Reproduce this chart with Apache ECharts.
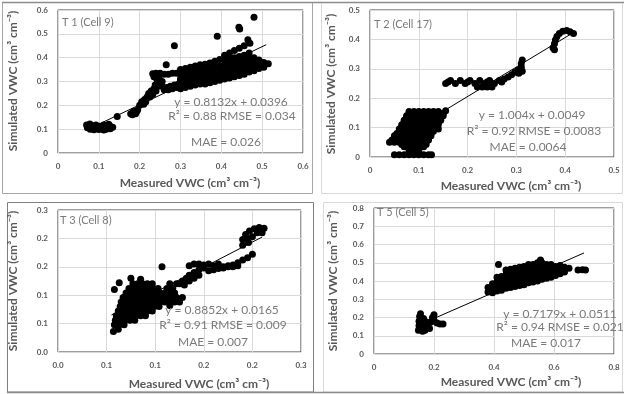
<!DOCTYPE html>
<html>
<head>
<meta charset="utf-8">
<script src="https://cdn.jsdelivr.net/npm/echarts@6/dist/echarts.min.js"></script>
<style>
  html, body { margin: 0; padding: 0; background: #fff; }
  #chart { width: 624px; height: 394px; }
</style>
</head>
<body>
<div id="chart"></div>
<script>
// Measured vs simulated volumetric water content, four monitoring cells

const panelNames = ['T 1 (Cell 9)', 'T 2 (Cell 17)', 'T 3 (Cell 8)', 'T 5 (Cell 5)'];

// fitted regression lines and error statistics
const fitSlope = [0.8132, 1.004, 0.8852, 0.7179];
const fitIntercept = [0.0396, 0.0049, 0.0165, 0.0511];
const fitXRange = [[0.07, 0.51], [0.045, 0.41], [0.055, 0.21], [0.19, 0.70]];
const fitSlopeText = ['0.8132', '1.004', '0.8852', '0.7179'];
const fitInterceptText = ['0.0396', '0.0049', '0.0165', '0.0511'];
const r2Text = ['0.88', '0.92', '0.91', '0.94'];
const rmseText = ['0.034', '0.0083', '0.009', '0.021'];
const maeText = ['0.026', '0.0064', '0.007', '0.017'];

// axis extents and tick labels
const xMax = [0.6, 0.5, 0.25, 0.8];
const xStep = [0.1, 0.1, 0.05, 0.2];
const yMax = [0.6, 0.5, 0.25, 0.8];
const yStep = [0.1, 0.1, 0.05, 0.1];
const xTickLabels = [
  ['0', '0.1', '0.2', '0.3', '0.4', '0.5', '0.6'],
  ['0', '0.1', '0.2', '0.3', '0.4', '0.5'],
  ['0.0', '0.1', '0.1', '0.2', '0.2', '0.3'],
  ['0', '0.2', '0.4', '0.6', '0.8']
];
const yTickLabels = [
  ['0', '0.1', '0.2', '0.3', '0.4', '0.5', '0.6'],
  ['0', '0.1', '0.2', '0.3', '0.4', '0.5'],
  ['0.0', '0.1', '0.1', '0.2', '0.2', '0.3'],
  ['0', '0.1', '0.2', '0.3', '0.4', '0.5', '0.6', '0.7', '0.8']
];

// T 1 (Cell 9): measured, simulated
const t1Points = [
  [0.07,0.117],[0.072,0.106],[0.079,0.100],[0.083,0.115],[0.09,0.105],[0.093,0.118],[0.1,0.099],[0.102,0.112],
  [0.108,0.104],[0.112,0.117],[0.118,0.100],[0.12,0.111],[0.126,0.116],[0.128,0.102],[0.134,0.108],[0.088,0.098],
  [0.112,0.097],[0.124,0.121],[0.078,0.122],
  [0.145,0.153],
  [0.178,0.165],[0.185,0.175],[0.19,0.165],[0.195,0.18],[0.192,0.172],[0.182,0.16],
  [0.2,0.2],[0.205,0.215],[0.21,0.205],[0.212,0.225],[0.218,0.235],[0.215,0.215],[0.222,0.25],[0.225,0.235],
  [0.228,0.26],[0.232,0.245],[0.235,0.27],[0.24,0.26],[0.238,0.285],[0.245,0.28],[0.245,0.3],[0.25,0.29],
  [0.242,0.31],[0.235,0.32],[0.232,0.332],[0.24,0.335],[0.25,0.335],[0.26,0.33],[0.27,0.33],[0.28,0.335],
  [0.29,0.335],[0.3,0.33],[0.248,0.32],
  [0.255,0.28],[0.265,0.275],[0.275,0.28],[0.285,0.285],[0.295,0.29],[0.26,0.265],[0.27,0.265],[0.28,0.27],
  [0.29,0.275],[0.3,0.28],[0.255,0.3],[0.3,0.305],[0.305,0.32],
  [0.30,0.27],[0.30,0.29],[0.30,0.31],[0.30,0.35],
  [0.312,0.275],[0.312,0.295],[0.312,0.315],[0.312,0.335],[0.312,0.355],
  [0.324,0.28],[0.324,0.30],[0.324,0.32],[0.324,0.34],[0.324,0.36],
  [0.336,0.285],[0.336,0.305],[0.336,0.325],[0.336,0.345],[0.336,0.365],
  [0.348,0.29],[0.348,0.31],[0.348,0.33],[0.348,0.35],[0.348,0.37],
  [0.36,0.29],[0.36,0.31],[0.36,0.33],[0.36,0.35],[0.36,0.372],
  [0.372,0.295],[0.372,0.315],[0.372,0.335],[0.372,0.355],[0.372,0.378],
  [0.384,0.30],[0.384,0.32],[0.384,0.34],[0.384,0.36],[0.384,0.385],
  [0.396,0.305],[0.396,0.325],[0.396,0.345],[0.396,0.365],[0.396,0.392],
  [0.408,0.31],[0.408,0.33],[0.408,0.35],[0.408,0.37],[0.408,0.39],[0.408,0.41],
  [0.42,0.315],[0.42,0.335],[0.42,0.355],[0.42,0.375],[0.42,0.395],[0.42,0.42],
  [0.432,0.32],[0.432,0.34],[0.432,0.36],[0.432,0.38],[0.432,0.40],[0.432,0.43],
  [0.444,0.325],[0.444,0.345],[0.444,0.365],[0.444,0.385],[0.444,0.405],[0.444,0.44],
  [0.456,0.33],[0.456,0.35],[0.456,0.37],[0.456,0.39],[0.456,0.41],[0.456,0.45],
  [0.468,0.34],[0.468,0.36],[0.468,0.38],[0.468,0.40],[0.468,0.42],
  [0.48,0.345],[0.48,0.365],[0.48,0.385],[0.48,0.40],
  [0.492,0.355],[0.492,0.375],[0.492,0.39],
  [0.504,0.36],[0.504,0.38],[0.515,0.375],
  [0.285,0.45],[0.39,0.49],[0.445,0.52],[0.443,0.528],[0.48,0.57],[0.465,0.475],[0.47,0.46],[0.265,0.37],[0.455,0.34]
];

// T 2 (Cell 17)
const t2Points = [
  [0.05,0.008],[0.06,0.008],[0.07,0.008],[0.08,0.008],[0.09,0.008],[0.1,0.008],[0.11,0.008],[0.12,0.008],[0.126,0.008],
  [0.08,0.02],[0.09,0.022],[0.1,0.02],
  [0.07,0.035],[0.08,0.035],[0.09,0.037],[0.1,0.035],[0.11,0.035],
  [0.065,0.0425],[0.075,0.0425],[0.085,0.0425],[0.095,0.0425],[0.105,0.0425],[0.115,0.0425],
  [0.04,0.05],[0.05,0.05],[0.06,0.05],[0.07,0.05],[0.085,0.05],[0.095,0.05],[0.105,0.05],[0.115,0.05],
  [0.045,0.0575],[0.055,0.0575],[0.065,0.0575],[0.075,0.0575],[0.09,0.0575],[0.11,0.0575],[0.12,0.0575],
  [0.05,0.065],[0.06,0.065],[0.07,0.065],[0.08,0.065],[0.1,0.065],[0.11,0.065],[0.12,0.065],
  [0.05,0.0725],[0.06,0.0725],[0.07,0.0725],[0.08,0.0725],[0.09,0.0725],[0.105,0.0725],[0.115,0.0725],[0.125,0.0725],
  [0.055,0.08],[0.065,0.08],[0.075,0.08],[0.085,0.08],[0.095,0.08],[0.105,0.08],[0.115,0.08],[0.125,0.08],
  [0.06,0.0875],[0.07,0.0875],[0.08,0.0875],[0.09,0.0875],[0.1,0.0875],[0.11,0.0875],[0.12,0.0875],[0.13,0.0875],
  [0.06,0.095],[0.07,0.095],[0.08,0.095],[0.09,0.095],[0.1,0.095],[0.11,0.095],[0.12,0.095],[0.13,0.095],[0.14,0.095],
  [0.065,0.1025],[0.075,0.1025],[0.085,0.1025],[0.095,0.1025],[0.105,0.1025],[0.115,0.1025],[0.125,0.1025],[0.135,0.1025],
  [0.065,0.11],[0.075,0.11],[0.085,0.11],[0.095,0.11],[0.105,0.11],[0.12,0.11],[0.13,0.11],[0.14,0.11],
  [0.07,0.1175],[0.08,0.1175],[0.1,0.1175],[0.11,0.1175],[0.12,0.1175],[0.13,0.1175],[0.14,0.1175],
  [0.07,0.125],[0.08,0.125],[0.09,0.125],[0.1,0.125],[0.11,0.125],[0.125,0.125],[0.135,0.125],[0.145,0.125],
  [0.075,0.1325],[0.085,0.1325],[0.095,0.1325],[0.105,0.1325],[0.115,0.1325],[0.125,0.1325],[0.135,0.1325],[0.145,0.1325],
  [0.075,0.14],[0.085,0.14],[0.095,0.14],[0.105,0.14],[0.115,0.14],[0.13,0.14],[0.14,0.14],[0.15,0.14],
  [0.08,0.1475],[0.09,0.1475],[0.1,0.1475],[0.11,0.1475],[0.12,0.1475],[0.135,0.1475],[0.145,0.1475],[0.15,0.1475],
  [0.08,0.155],[0.09,0.155],[0.1,0.155],[0.11,0.155],[0.12,0.155],[0.13,0.155],[0.14,0.155],[0.155,0.157],
  [0.155,0.25],[0.165,0.26],[0.175,0.25],[0.185,0.26],[0.195,0.25],[0.205,0.26],[0.215,0.25],[0.225,0.26],
  [0.235,0.25],[0.245,0.26],[0.255,0.25],[0.265,0.26],[0.27,0.255],[0.16,0.255],[0.2,0.255],[0.24,0.255],
  [0.22,0.238],[0.23,0.238],[0.24,0.238],[0.25,0.238],
  [0.275,0.265],[0.283,0.272],[0.29,0.28],[0.297,0.288],[0.303,0.295],[0.31,0.305],[0.31,0.318],[0.312,0.33],[0.305,0.285],[0.312,0.292],
  [0.375,0.372],[0.378,0.385],[0.38,0.398],[0.383,0.41],[0.388,0.42],[0.395,0.428],[0.403,0.43],[0.41,0.426],[0.417,0.42],[0.378,0.365]
];

// T 3 (Cell 8)
const t3Points = [
  [0.057,0.036],[0.062,0.04],
  [0.058,0.048],[0.063,0.048],[0.068,0.048],
  [0.059,0.056],[0.064,0.056],[0.069,0.056],[0.074,0.056],[0.079,0.056],
  [0.06,0.064],[0.065,0.064],[0.07,0.064],[0.075,0.064],[0.08,0.064],[0.085,0.064],[0.09,0.064],
  [0.062,0.072],[0.067,0.072],[0.072,0.072],[0.077,0.072],[0.082,0.072],[0.087,0.072],[0.092,0.072],[0.097,0.072],
  [0.064,0.08],[0.069,0.08],[0.074,0.08],[0.079,0.08],[0.084,0.08],[0.089,0.08],[0.094,0.08],[0.099,0.08],[0.104,0.08],[0.115,0.082],
  [0.065,0.088],[0.07,0.088],[0.075,0.088],[0.08,0.088],[0.085,0.088],[0.09,0.088],[0.095,0.088],[0.1,0.088],[0.105,0.088],[0.11,0.088],[0.115,0.088],[0.12,0.088],[0.125,0.088],
  [0.067,0.096],[0.072,0.096],[0.077,0.096],[0.082,0.096],[0.087,0.096],[0.092,0.096],[0.097,0.096],[0.102,0.096],[0.107,0.096],[0.112,0.096],[0.117,0.096],[0.122,0.096],[0.128,0.096],
  [0.07,0.104],[0.075,0.104],[0.08,0.104],[0.085,0.104],[0.09,0.104],[0.095,0.104],[0.1,0.104],[0.105,0.104],[0.11,0.104],[0.115,0.104],[0.12,0.104],
  [0.073,0.112],[0.078,0.112],[0.083,0.112],[0.088,0.112],[0.093,0.112],[0.098,0.112],[0.103,0.112],[0.112,0.112],[0.118,0.112],
  [0.077,0.12],[0.082,0.12],[0.087,0.12],[0.092,0.12],[0.097,0.12],[0.115,0.12],[0.122,0.12],
  [0.125,0.12],[0.128,0.125],[0.132,0.13],[0.135,0.135],[0.14,0.14],[0.145,0.145],[0.15,0.148],[0.13,0.118],[0.135,0.125],[0.14,0.13],[0.145,0.135],
  [0.135,0.152],[0.14,0.155],[0.145,0.155],[0.15,0.153],[0.155,0.155],[0.16,0.152],[0.165,0.155],[0.17,0.15],[0.175,0.152],[0.18,0.15],[0.185,0.152],
  [0.155,0.143],[0.16,0.145],[0.165,0.147],[0.17,0.148],[0.175,0.15],[0.18,0.153],[0.185,0.157],[0.19,0.162],[0.195,0.166],[0.2,0.172],
  [0.19,0.188],[0.19,0.198],[0.193,0.207],[0.197,0.213],[0.202,0.217],[0.207,0.219],[0.212,0.218],[0.196,0.193],[0.2,0.203],[0.205,0.21],[0.21,0.21],[0.194,0.2],
  [0.107,0.15],[0.063,0.122],[0.075,0.13],[0.058,0.11],[0.085,0.128]
];

// T 5 (Cell 5)
const t4Points = [
  [0.148,0.13],[0.15,0.155],[0.15,0.18],[0.152,0.205],[0.155,0.22],[0.158,0.14],[0.16,0.17],[0.165,0.195],[0.17,0.15],
  [0.175,0.175],[0.18,0.16],[0.185,0.14],[0.19,0.175],[0.195,0.2],[0.2,0.215],[0.2,0.185],[0.21,0.17],[0.22,0.165],
  [0.23,0.165],[0.17,0.13],[0.162,0.125],
  [0.38,0.34],[0.38,0.365],
  [0.395,0.335],[0.395,0.36],[0.395,0.385],
  [0.41,0.345],[0.41,0.37],[0.41,0.395],[0.41,0.42],
  [0.425,0.35],[0.425,0.375],[0.425,0.40],[0.425,0.425],
  [0.44,0.36],[0.44,0.385],[0.44,0.41],[0.44,0.435],[0.44,0.46],
  [0.455,0.365],[0.455,0.39],[0.455,0.415],[0.455,0.44],[0.455,0.465],
  [0.47,0.37],[0.47,0.395],[0.47,0.42],[0.47,0.445],[0.47,0.47],
  [0.485,0.375],[0.485,0.40],[0.485,0.425],[0.485,0.45],[0.485,0.475],
  [0.50,0.38],[0.50,0.405],[0.50,0.43],[0.50,0.455],[0.50,0.48],
  [0.515,0.39],[0.515,0.415],[0.515,0.44],[0.515,0.465],[0.515,0.49],
  [0.53,0.395],[0.53,0.42],[0.53,0.445],[0.53,0.47],[0.53,0.49],
  [0.545,0.40],[0.545,0.425],[0.545,0.45],[0.545,0.475],[0.545,0.50],
  [0.56,0.41],[0.56,0.435],[0.56,0.46],[0.56,0.485],[0.56,0.50],
  [0.575,0.415],[0.575,0.44],[0.575,0.465],[0.575,0.49],
  [0.59,0.42],[0.59,0.445],[0.59,0.47],[0.59,0.49],
  [0.605,0.43],[0.605,0.455],[0.605,0.48],
  [0.62,0.44],[0.62,0.465],[0.62,0.485],
  [0.635,0.45],[0.635,0.475],
  [0.415,0.49],[0.555,0.515],[0.68,0.46],[0.695,0.462],[0.705,0.46],[0.65,0.47]
];

const allPoints = [t1Points, t2Points, t3Points, t4Points];

const FONT = 'Lato, "Open Sans", sans-serif';
const AXIS_GREY = '#595959';
const NOTE_GREY = '#7a7a7a';

const grids = [
  { left: 58, top: 10, width: 245, height: 143 },
  { left: 370, top: 10, width: 244, height: 147 },
  { left: 58, top: 210, width: 243, height: 142 },
  { left: 374, top: 208, width: 240, height: 146 }
].map(g => Object.assign(g, { show: true, borderColor: '#3c3c3c', borderWidth: 1, containLabel: false }));

function tickFormatter(labels, step) {
  return v => labels[Math.round(v / step)] ?? '';
}

const xAxes = [], yAxes = [], series = [];
for (let i = 0; i < 4; i++) {
  xAxes.push({
    type: 'value', gridIndex: i, min: 0, max: xMax[i], interval: xStep[i],
    axisLine: { show: false }, axisTick: { show: false },
    splitLine: { show: true, lineStyle: { color: '#d9d9d9', width: 1 } },
    axisLabel: {
      margin: 9, fontFamily: FONT, fontWeight: 'bold', fontSize: 8, color: AXIS_GREY,
      showMinLabel: true, showMaxLabel: true,
      formatter: tickFormatter(xTickLabels[i], xStep[i])
    }
  });
  yAxes.push({
    type: 'value', gridIndex: i, min: 0, max: yMax[i], interval: yStep[i],
    axisLine: { show: false }, axisTick: { show: false },
    splitLine: { show: true, lineStyle: { color: '#d9d9d9', width: 1 } },
    axisLabel: {
      margin: 10, fontFamily: FONT, fontWeight: 'bold', fontSize: 8, color: AXIS_GREY,
      showMinLabel: true, showMaxLabel: true,
      formatter: tickFormatter(yTickLabels[i], yStep[i])
    }
  });
  series.push({
    type: 'scatter', xAxisIndex: i, yAxisIndex: i,
    data: allPoints[i], symbol: 'circle', symbolSize: 7,
    itemStyle: { color: '#000', opacity: 1, borderWidth: 0 }, silent: true, z: 2
  });
  const [x0, x1] = fitXRange[i];
  series.push({
    type: 'line', xAxisIndex: i, yAxisIndex: i,
    data: [[x0, fitSlope[i] * x0 + fitIntercept[i]], [x1, fitSlope[i] * x1 + fitIntercept[i]]],
    showSymbol: false, symbol: 'none',
    lineStyle: { color: '#000', width: 1 }, silent: true, z: 3
  });
}

// panel frames, titles and annotation text
const frames = [
  { x: 2.5, y: 2.5, w: 310, h: 191, c: '#a6a6a6' },
  { x: 321.5, y: 2.5, w: 301, h: 191, c: '#d9d9d9' },
  { x: 7.5, y: 202.5, w: 306, h: 189.5, c: '#7f7f7f' },
  { x: 323.5, y: 202.5, w: 299, h: 189.5, c: '#d9d9d9' }
];
const yTitlePos = [[13, 81], [331, 84], [13, 281], [333, 281]];
const xTitlePos = [[190, 183], [511, 186], [199, 384], [511, 382]];
const namePos = [[62, 22], [374, 24], [60, 220], [377, 212]];
const notePos = [
  [[231, 102], [232, 116], [226, 142]],
  [[532, 115], [534, 131], [528, 147]],
  [[222, 310], [223, 325], [213, 342]],
  [[560, 314], [560, 327], [546, 343]]
];

const graphics = [];
frames.forEach(f => graphics.push({
  type: 'rect', shape: { x: f.x, y: f.y, width: f.w, height: f.h },
  style: { fill: 'none', stroke: f.c, lineWidth: 1 }, z: 0, silent: true
}));
graphics.push({ type: 'line', shape: { x1: 2, y1: 2.5, x2: 624, y2: 2.5 }, style: { stroke: '#8c8c8c', lineWidth: 1.5 }, silent: true });
graphics.push({ type: 'line', shape: { x1: 7, y1: 392.5, x2: 624, y2: 392.5 }, style: { stroke: '#8c8c8c', lineWidth: 1.5 }, silent: true });

const textStyle = (text, size, weight, color, align) => ({
  text, fontFamily: FONT, fontSize: size, fontWeight: weight, fill: color,
  align: align || 'center', verticalAlign: 'middle'
});

for (let i = 0; i < 4; i++) {
  graphics.push({
    type: 'text', x: yTitlePos[i][0], y: yTitlePos[i][1], rotation: Math.PI / 2,
    style: textStyle('Simulated VWC (cm³ cm⁻³)', 12, 'bold', AXIS_GREY), silent: true
  });
  graphics.push({
    type: 'text', x: xTitlePos[i][0], y: xTitlePos[i][1],
    style: textStyle('Measured VWC (cm³ cm⁻³)', 12, 'bold', AXIS_GREY), silent: true
  });
  graphics.push({
    type: 'text', x: namePos[i][0], y: namePos[i][1],
    style: textStyle(panelNames[i], 11, 'normal', NOTE_GREY, 'left'), silent: true, z: 10
  });
  const lines = [
    'y = ' + fitSlopeText[i] + 'x + ' + fitInterceptText[i],
    'R² = ' + r2Text[i] + ' RMSE = ' + rmseText[i],
    'MAE = ' + maeText[i]
  ];
  lines.forEach((t, k) => graphics.push({
    type: 'text', x: notePos[i][k][0], y: notePos[i][k][1],
    style: textStyle(t, 12, 'normal', NOTE_GREY), silent: true, z: 10
  }));
}

const chart = echarts.init(document.getElementById('chart'), null, { renderer: 'canvas' });
chart.setOption({
  animation: false,
  backgroundColor: '#ffffff',
  grid: grids,
  xAxis: xAxes,
  yAxis: yAxes,
  series: series,
  graphic: graphics
});
</script>
</body>
</html>
